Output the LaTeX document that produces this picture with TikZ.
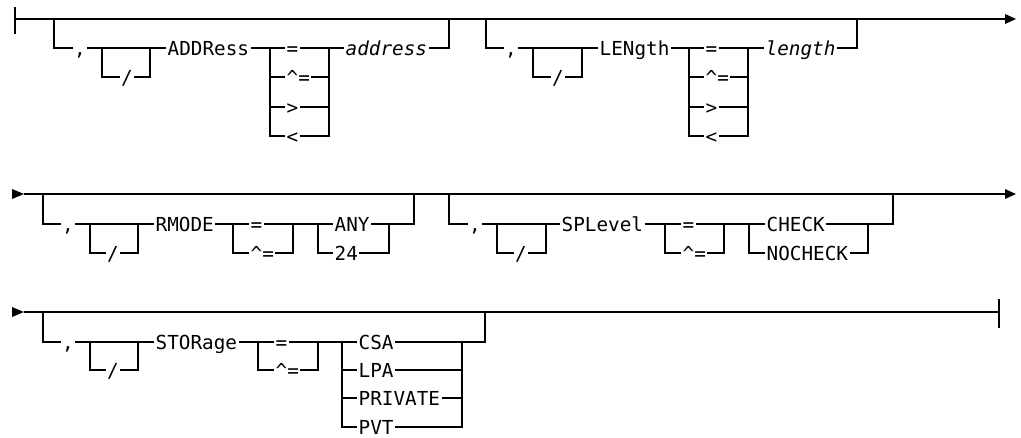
\documentclass[tikz,border=0pt]{standalone}
\usepackage{fontspec}
\newfontfamily\rrfont{DejaVu Sans Mono}[ItalicFont={DejaVu Sans Mono Oblique}]
\begin{document}
\begin{tikzpicture}[x=1pt,y=-1pt,line width=1.35pt,
  lbl/.style={fill=white,inner xsep=1.5pt,inner ysep=0pt,text height=14pt,text depth=4pt,
    font=\rrfont\fontsize{19.3}{20}\selectfont},
  lw/.style={lbl,anchor=base west,xshift=-1.5pt,yshift=-7pt},
  lc/.style={lbl,anchor=base,yshift=-7pt},
  tip/.style={fill=black,draw=none}]
\useasboundingbox (0,0) rectangle (1021,437);
% ---------- row 1 ----------
\draw (15,7)--(15,34);
\draw (15,19)--(1005,19);
\fill[tip] (1005,14)--(1016,19)--(1005,24)--cycle;
\draw (54,19)--(54,48)--(449,48)--(449,19);
\draw (102,48)--(102,77)--(150,77)--(150,48);
\draw (270,48)--(270,136)--(329,136)--(329,48);
\draw (270,77)--(329,77) (270,107)--(329,107);
\draw (486,19)--(486,48)--(857,48)--(857,19);
\draw (533,48)--(533,77)--(582,77)--(582,48);
\draw (689,48)--(689,136)--(748,136)--(748,48);
\draw (689,77)--(748,77) (689,107)--(748,107);
\node[lc] (c1) at (80,48) {,};
\node[lc] (s1) at (127,77) {/};
\node[lw] (addr) at (167,48) {ADDRess};
\node[lw] (a1) at (286,48) {=};
\node[lw] (a2) at (286,77) {\textasciicircum=};
\node[lw] (a3) at (286,107) {>};
\node[lw] (a4) at (286,136) {<};
\node[lw] (addrv) at (345,48) {\itshape address};
\node[lc] (c2) at (511,48) {,};
\node[lc] (s2) at (558,77) {/};
\node[lw] (len) at (599,48) {LENgth};
\node[lw] (b1) at (705,48) {=};
\node[lw] (b2) at (705,77) {\textasciicircum=};
\node[lw] (b3) at (705,107) {>};
\node[lw] (b4) at (705,136) {<};
\node[lw] (lenv) at (765,48) {\itshape length};
% ---------- row 2 ----------
\fill[tip] (12,189)--(24,194)--(12,199)--cycle;
\draw (24,194)--(1005,194);
\fill[tip] (1005,189)--(1016,194)--(1005,199)--cycle;
\draw (43,194)--(43,224)--(414,224)--(414,194);
\draw (90,224)--(90,253)--(138,253)--(138,224);
\draw (233,224)--(233,253)--(293,253)--(293,224);
\draw (318,224)--(318,253)--(389,253)--(389,224);
\draw (449,194)--(449,224)--(893,224)--(893,194);
\draw (497,224)--(497,253)--(546,253)--(546,224);
\draw (665,224)--(665,253)--(724,253)--(724,224);
\draw (749,224)--(749,253)--(868,253)--(868,224);
\node[lc] (c3) at (68,224) {,};
\node[lc] (s3) at (113,253) {/};
\node[lw] (rm) at (155,224) {RMODE};
\node[lw] (r1) at (250,224) {=};
\node[lw] (r2) at (250,253) {\textasciicircum=};
\node[lw] (any) at (334,224) {ANY};
\node[lw] (t24) at (334,253) {24};
\node[lc] (c4) at (475,224) {,};
\node[lc] (s4) at (521,253) {/};
\node[lw] (spl) at (561,224) {SPLevel};
\node[lw] (p1) at (682,224) {=};
\node[lw] (p2) at (682,253) {\textasciicircum=};
\node[lw] (chk) at (766,224) {CHECK};
\node[lw] (nchk) at (766,253) {NOCHECK};
% ---------- row 3 ----------
\fill[tip] (12,307)--(24,312)--(12,317)--cycle;
\draw (24,312)--(999,312);
\draw (999,299)--(999,328);
\draw (43,312)--(43,342)--(485,342)--(485,312);
\draw (90,342)--(90,370)--(138,370)--(138,342);
\draw (258,342)--(258,370)--(318,370)--(318,342);
\draw (342,342)--(342,427)--(462,427)--(462,342);
\draw (342,370)--(462,370) (342,398)--(462,398);
\node[lc] (c5) at (68,342) {,};
\node[lc] (s5) at (113,370) {/};
\node[lw] (sto) at (155,342) {STORage};
\node[lw] (q1) at (275,342) {=};
\node[lw] (q2) at (275,370) {\textasciicircum=};
\node[lw] (csa) at (358,342) {CSA};
\node[lw] (lpa) at (358,370) {LPA};
\node[lw] (priv) at (358,398) {PRIVATE};
\node[lw] (pvt) at (358,427) {PVT};
\end{tikzpicture}
\end{document}
